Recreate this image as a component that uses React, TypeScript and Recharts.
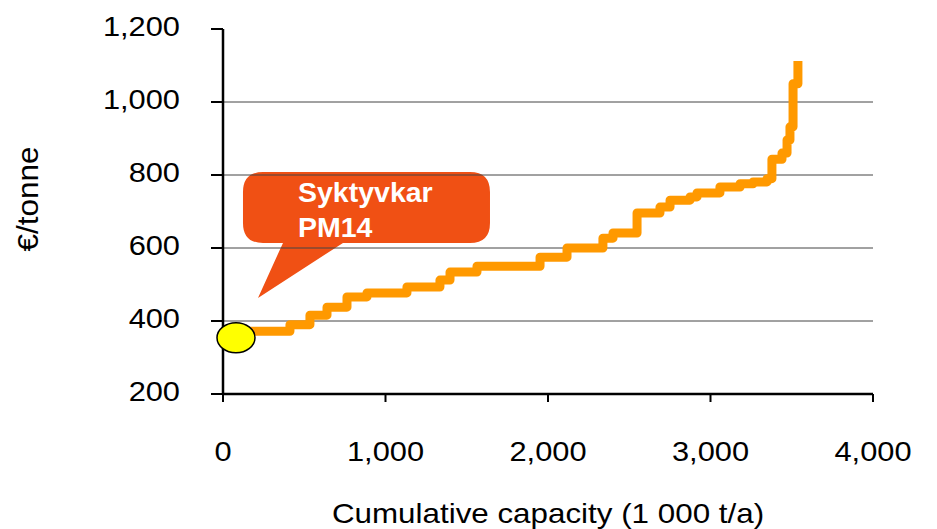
import { LineChart, Line, XAxis, YAxis, ReferenceLine, ReferenceDot, ReferenceArea } from "recharts";

// cost curve (stepped supply curve)
const capacity = [80, 412, 535, 640, 763, 886, 1132, 1335, 1397, 1563, 1951, 2117, 2338, 2400, 2548, 2689, 2751, 2874, 2917, 3058, 3182, 3262, 3348, 3378, 3440, 3471, 3489, 3508, 3538];
const cost = [372, 390, 416, 438, 466, 477, 493, 512, 534, 550, 575, 600, 627, 641, 696, 712, 731, 740, 751, 767, 776, 781, 790, 843, 860, 896, 932, 1050, 1112];

const xTicks = [0, 1000, 2000, 3000, 4000];
const yTicks = [200, 400, 600, 800, 1000, 1200];
const gridValues = [400, 600, 800, 1000];

// highlighted mill
const millName = ["Syktyvkar", "PM14"];
const millCapacity = 80;
const millCost = 354;
const calloutX = [123, 1643];
const calloutY = [614, 808];

const data = capacity.map((c, i) => ({ capacity: c, cost: cost[i] }));

const FONT = "'Liberation Sans', Arial, sans-serif";
const fmt = (v: number) => v.toLocaleString("en-US");

function StretchText({ x, y, children, anchor = "middle", sx = 1.1, rotate = 0, size = 28 }: any) {
  return (
    <text
      transform={`translate(${x},${y}) rotate(${rotate}) scale(${sx},1)`}
      textAnchor={anchor}
      fontFamily={FONT}
      fontSize={size}
      fill="#000"
    >
      {children}
    </text>
  );
}

const YTick = ({ x, y, payload }: any) => (
  <StretchText x={x} y={y + 7} anchor="end">
    {fmt(payload.value)}
  </StretchText>
);

const XTick = ({ x, y, payload }: any) => <StretchText x={x} y={y}>{fmt(payload.value)}</StretchText>;

const Callout = ({ x, y, width, height }: any) => {
  const r = 20;
  const box = `M${x + r},${y} H${x + width - r} Q${x + width},${y} ${x + width},${y + r} V${y + height - r} Q${x + width},${y + height} ${x + width - r},${y + height} H${x + 100} L${x + 15},${y + height + 55} L${x + 40},${y + height} H${x + r} Q${x},${y + height} ${x},${y + height - r} V${y + r} Q${x},${y} ${x + r},${y} Z`;
  return (
    <g>
      <path d={box} fill="#F05014" />
      {millName.map((t, i) => (
        <text key={t} x={x + 55} y={y + 30 + i * 35} fill="#fff" fontFamily={FONT} fontWeight="bold" fontSize={28.5}>
          {t}
        </text>
      ))}
    </g>
  );
};

const Mill = ({ cx, cy }: any) => <ellipse cx={cx} cy={cy} rx={19} ry={15} fill="#FFFF00" stroke="#000" strokeWidth={1.5} />;

export default function App() {
  return (
    <div style={{ position: "absolute", left: 0, top: 0, background: "#fff" }}>
      <LineChart width={937} height={529} data={data} margin={{ top: 29, right: 64, bottom: 75, left: 163 }}>
        {gridValues.map((v) => (
          <ReferenceLine key={v} y={v} stroke="#444" strokeWidth={1} />
        ))}
        <XAxis
          dataKey="capacity"
          type="number"
          domain={[0, 4000]}
          ticks={xTicks}
          height={60}
          tickSize={8}
          tickMargin={59}
          axisLine={{ stroke: "#000", strokeWidth: 2.5 }}
          tickLine={{ stroke: "#000", strokeWidth: 2 }}
          tick={<XTick />}
          interval={0}
          label={{
            content: ({ viewBox }: any) => (
              <StretchText x={viewBox.x + viewBox.width / 2} y={viewBox.y + 129} sx={1.12}>
                Cumulative capacity (1 000 t/a)
              </StretchText>
            ),
          }}
        />
        <YAxis
          type="number"
          domain={[200, 1200]}
          ticks={yTicks}
          width={60}
          tickSize={12}
          tickMargin={31}
          axisLine={{ stroke: "#000", strokeWidth: 2.5 }}
          tickLine={{ stroke: "#000", strokeWidth: 2 }}
          tick={<YTick />}
          interval={0}
          label={{
            content: ({ viewBox }: any) => (
              <StretchText x={viewBox.x + viewBox.width - 185} y={viewBox.y + 170} rotate={-90} sx={1.05} size={30}>
                €/tonne
              </StretchText>
            ),
          }}
        />
        <ReferenceArea x1={calloutX[0]} x2={calloutX[1]} y1={calloutY[0]} y2={calloutY[1]} shape={<Callout />} />
        <Line
          dataKey="cost"
          type="stepAfter"
          stroke="#FF9900"
          strokeWidth={9}
          strokeLinejoin="round"
          dot={false}
          isAnimationActive={false}
        />
        <ReferenceDot x={millCapacity} y={millCost} shape={<Mill />} />
      </LineChart>
    </div>
  );
}
